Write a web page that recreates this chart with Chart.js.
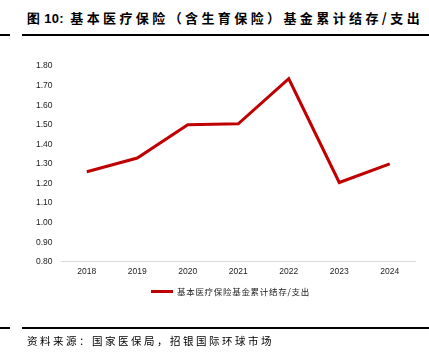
<!DOCTYPE html>
<html>
<head>
<meta charset="utf-8">
<script src="https://cdn.jsdelivr.net/npm/chart.js@4/dist/chart.umd.min.js"></script>
<style>
  body { margin: 0; background: #fff; }
  #wrap { position: relative; width: 429px; height: 362px; overflow: hidden; }
  #title { position: absolute; left: 27px; top: 8px; font: bold 13px "Noto Sans CJK SC", sans-serif; color: #000; white-space: nowrap; letter-spacing: 3.4px; }
  #title b { font-family: "Liberation Sans", sans-serif; letter-spacing: 0.3px; }
  .rule { position: absolute; height: 2px; background: #000; }
  #src { position: absolute; left: 27px; top: 333px; font: 10.5px "Noto Sans CJK SC", sans-serif; color: #000; white-space: nowrap; letter-spacing: 2.5px; }
  #legend { position: absolute; left: 151px; top: 285px; font: 8.5px "Noto Sans CJK SC", sans-serif; color: #222; white-space: nowrap; letter-spacing: 0.7px; }
  #legend span { display: inline-block; width: 22px; height: 3px; background: #C00000; vertical-align: middle; margin-right: 4px; position: relative; top: -1px; }
  canvas { position: absolute; left: 0; top: 0; }
</style>
</head>
<body>
<div id="wrap">
  <div id="title"><b>图 10:</b> 基本医疗保险（含生育保险）基金累计结存/支出</div>
  <div class="rule" style="left:0;width:10px;top:34px"></div>
  <div class="rule" style="left:22px;width:407px;top:34px"></div>
  <canvas id="line-chart" width="429" height="362"></canvas>
  <div id="legend"></div>
  <div class="rule" style="left:0;width:10px;top:327px"></div>
  <div class="rule" style="left:22px;width:407px;top:327px"></div>
  <div id="src">资料来源：国家医保局，招银国际环球市场</div>
</div>
<script>
var years = ["2018", "2019", "2020", "2021", "2022", "2023", "2024"];
var ratio = [1.26, 1.33, 1.50, 1.505, 1.735, 1.205, 1.30];
var seriesName = "基本医疗保险基金累计结存/支出";

var chart = new Chart(document.getElementById("line-chart"), {
  type: 'line',
  data: {
    labels: years,
    datasets: [{
      label: seriesName,
      data: ratio,
      borderColor: "#C00000",
      backgroundColor: "#C00000",
      borderWidth: 3,
      pointRadius: 0,
      tension: 0,
      fill: false
    }]
  },
  options: {
    responsive: false,
    animation: false,
    layout: { padding: { left: 27, right: 14, top: 66, bottom: 80 } },
    scales: {
      x: {
        offset: true,
        grid: { display: false, drawTicks: false },
        border: { color: "#d9d9d9", width: 1 },
        ticks: { color: "#222", font: { family: "Liberation Sans", size: 8.5 }, padding: 5 }
      },
      y: {
        min: 0.8,
        max: 1.8,
        grid: { display: false, drawTicks: false },
        border: { display: false },
        ticks: {
          stepSize: 0.1,
          padding: 9,
          color: "#222",
          font: { family: "Liberation Sans", size: 8.5 },
          callback: function(v) { return v.toFixed(2); }
        }
      }
    },
    plugins: {
      legend: { display: false },
      tooltip: { enabled: false }
    }
  }
});

// legend drawn as html, from the dataset label
var lg = document.getElementById("legend");
lg.innerHTML = '<span></span>' + chart.data.datasets[0].label;
</script>
</body>
</html>
